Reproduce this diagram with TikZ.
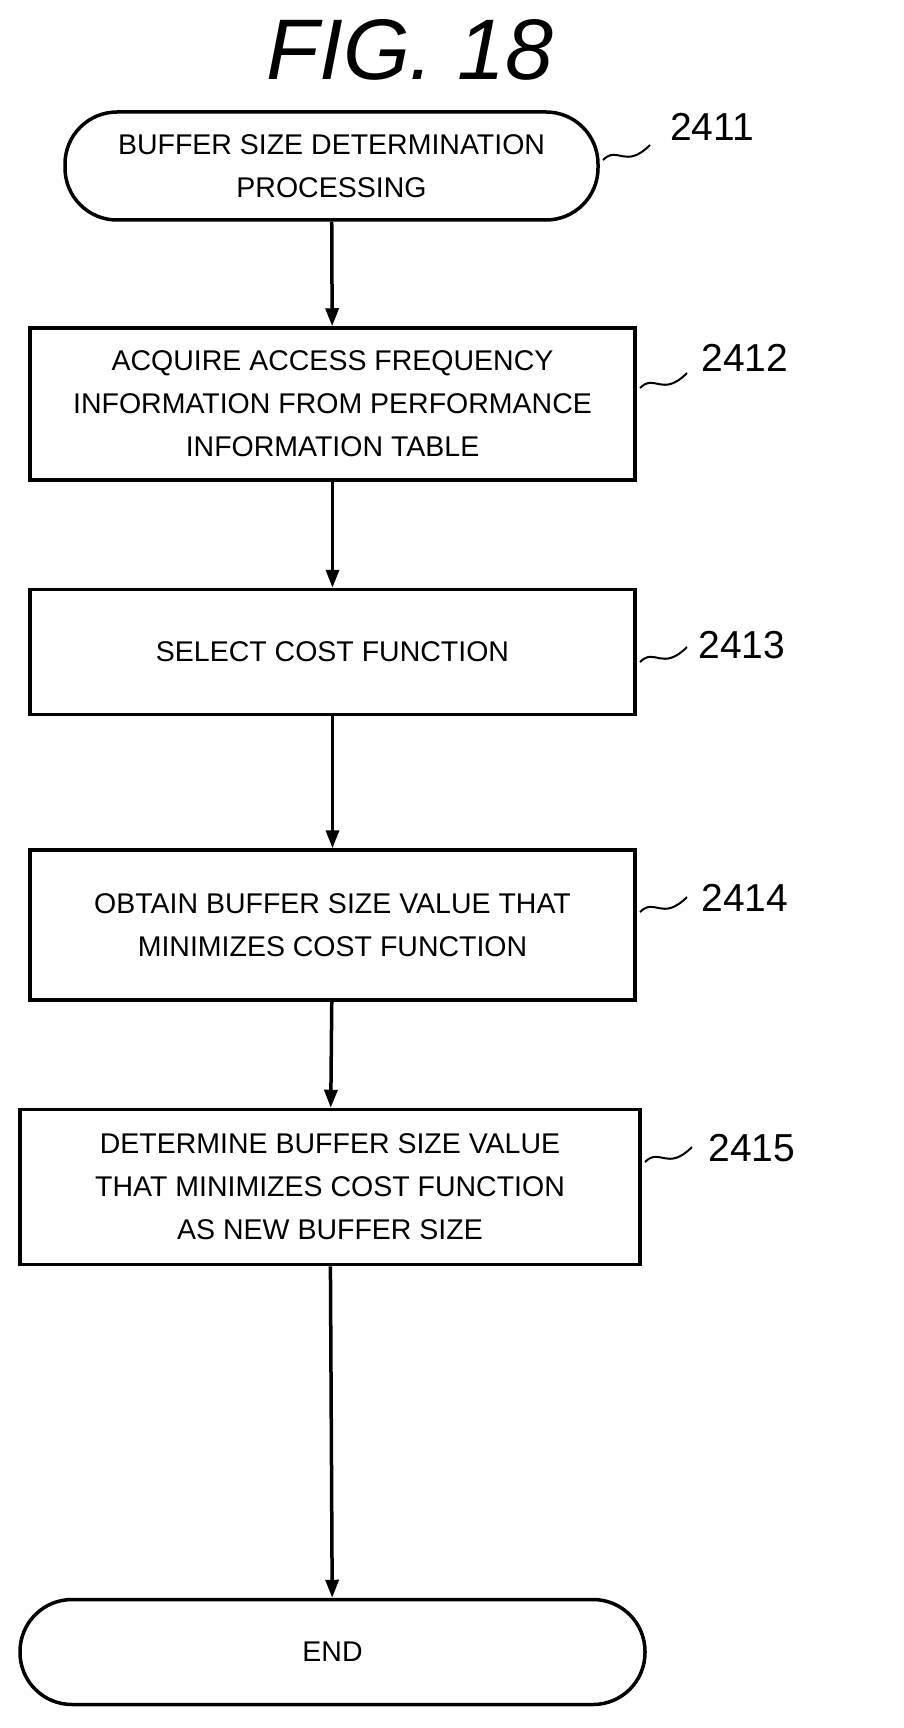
\documentclass[tikz,border=0pt]{standalone}
\usepackage{fontspec}
\setmainfont{Liberation Sans}
\usetikzlibrary{arrows.meta}
\begin{document}
\begin{tikzpicture}[x=1pt,y=-1pt,line width=3.5pt,
  box/.style={draw,align=center,font=\fontsize{28.5}{43}\selectfont,inner sep=0pt},
  term/.style={box,rounded corners=52pt},
  lab/.style={font=\fontsize{39}{44}\selectfont,anchor=center},
  arr/.style={-{Triangle[length=18pt,width=13pt]}},
  sq/.style={line width=2pt}]
\useasboundingbox (0,0) rectangle (903,1728);
\node[font=\fontsize{86}{94}\selectfont\itshape] (title) at (410,50) {FIG. 18};
\node[term,minimum width=533pt,minimum height=108pt] (s) at (331.5,166) {BUFFER SIZE DETERMINATION\\PROCESSING};
\node[box,minimum width=605pt,minimum height=152pt] (b2) at (332.5,404) {ACQUIRE ACCESS FREQUENCY\\INFORMATION FROM PERFORMANCE\\INFORMATION TABLE};
\node[box,minimum width=605pt,minimum height=125pt] (b3) at (332.5,652) {SELECT COST FUNCTION};
\node[box,minimum width=605pt,minimum height=150pt] (b4) at (332.5,925) {OBTAIN BUFFER SIZE VALUE THAT\\MINIMIZES COST FUNCTION};
\node[box,minimum width=620pt,minimum height=155pt] (b5) at (330,1187) {DETERMINE BUFFER SIZE VALUE\\THAT MINIMIZES COST FUNCTION\\AS NEW BUFFER SIZE};
\node[term,minimum width=625pt,minimum height=105pt] (e) at (332.5,1652) {END};
\draw[arr] (s) -- (b2);
\draw[arr] (b2) -- (b3);
\draw[arr] (b3) -- (b4);
\draw[arr] (b4) -- (b5);
\draw[arr] (b5) -- (e);
\node[lab] (l1) at (712,127) {2411};
\node[lab] (l2) at (745,358) {2412};
\node[lab] (l3) at (742,645) {2413};
\node[lab] (l4) at (745,898) {2414};
\node[lab] (l5) at (752,1148) {2415};
\draw[sq] (603,160) .. controls (618,145) and (625,170) .. (650,145);
\draw[sq] (640,388) .. controls (655,373) and (662,398) .. (687,373);
\draw[sq] (640,662) .. controls (655,647) and (662,672) .. (687,647);
\draw[sq] (640,912) .. controls (655,897) and (662,922) .. (687,897);
\draw[sq] (645,1162) .. controls (660,1147) and (667,1172) .. (692,1147);
\end{tikzpicture}
\end{document}
